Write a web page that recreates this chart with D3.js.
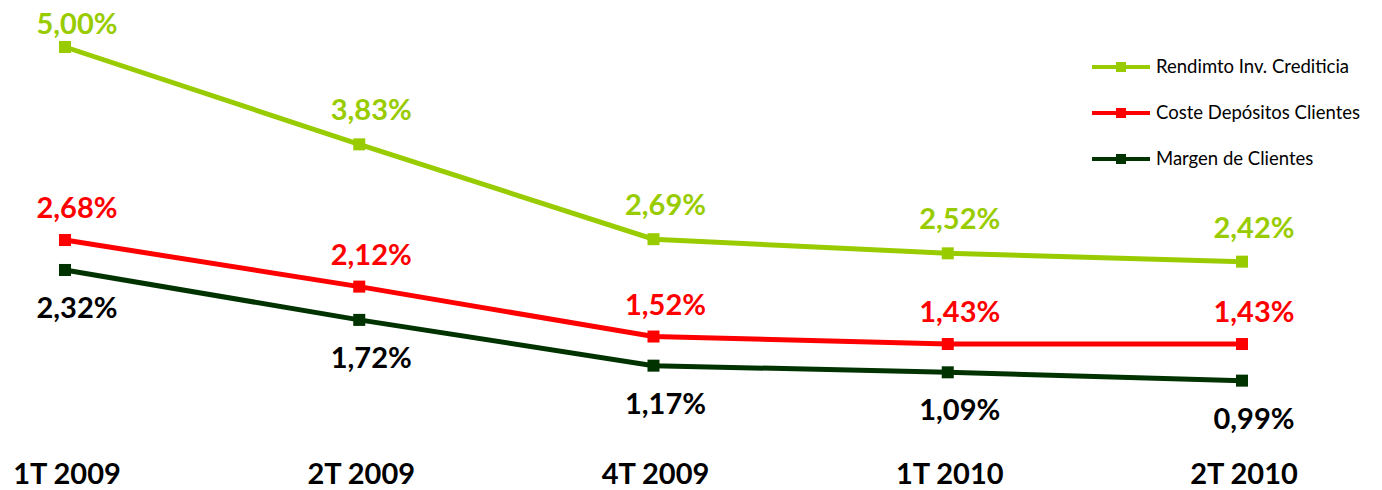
<!DOCTYPE html>
<html>
<head>
<meta charset="utf-8">
<script src="https://cdn.jsdelivr.net/npm/d3@7"></script>
<style>
  body { margin: 0; background: #fff; }
  text { font-family: Lato, 'Open Sans', sans-serif; }
</style>
</head>
<body>
<div id="chart"></div>
<script>
const categories = ['1T 2009', '2T 2009', '4T 2009', '1T 2010', '2T 2010']
const rendimiento = [5.0, 3.83, 2.69, 2.52, 2.42]
const coste = [2.68, 2.12, 1.52, 1.43, 1.43]
const margen = [2.32, 1.72, 1.17, 1.09, 0.99]
const seriesNames = ['Rendimto Inv. Crediticia', 'Coste Depósitos Clientes', 'Margen de Clientes']

const width = 1382
const height = 490

const series = [
  { name: seriesNames[0], values: rendimiento, color: '#99cc00', labelColor: '#99cc00', dy: -24 },
  { name: seriesNames[1], values: coste, color: '#ff0000', labelColor: '#ff0000', dy: -22 },
  { name: seriesNames[2], values: margen, color: '#003300', labelColor: '#000000', dy: 48 }
]

const svg = d3
  .select('#chart')
  .append('svg')
  .attr('width', width)
  .attr('height', height)

const x = d3.scalePoint().domain(categories).range([65, 1242])
const y = d3.scaleLinear().domain([0, 5]).range([463, 47])

const fmt = v => d3.format('.2f')(v).replace('.', ',') + '%'

const line = d3
  .line()
  .x((d, i) => x(categories[i]))
  .y(d => y(d))

series.forEach(s => {
  const g = svg.append('g').attr('class', 'series')

  g.append('path')
    .datum(s.values)
    .attr('d', line)
    .attr('fill', 'none')
    .attr('stroke', s.color)
    .attr('stroke-width', 5)

  g.selectAll('rect')
    .data(s.values)
    .enter()
    .append('rect')
    .attr('x', (d, i) => x(categories[i]) - 6)
    .attr('y', d => y(d) - 6)
    .attr('width', 12)
    .attr('height', 12)
    .attr('fill', s.color)

  g.selectAll('text')
    .data(s.values)
    .enter()
    .append('text')
    .attr('x', (d, i) => x(categories[i]) + 12)
    .attr('y', d => Math.max(y(d) + s.dy, 34))
    .attr('text-anchor', 'middle')
    .attr('fill', s.labelColor)
    .style('font-size', '29px')
    .style('font-weight', 700)
    .text(d => fmt(d))
})

// category labels
svg
  .selectAll('.cat')
  .data(categories)
  .enter()
  .append('text')
  .attr('class', 'cat')
  .attr('x', d => x(d) + 2)
  .attr('y', 484)
  .attr('text-anchor', 'middle')
  .attr('fill', '#000')
  .style('font-size', '29px')
  .style('font-weight', 700)
  .text(d => d)

// legend
const legend = svg.append('g').attr('transform', 'translate(1092, 67)')

legend
  .selectAll('.legend-row')
  .data(series)
  .enter()
  .append('g')
  .attr('class', 'legend-row')
  .attr('transform', (d, i) => `translate(0,${i * 46})`)
  .each(function(d) {
    const g = d3.select(this)
    g.append('line')
      .attr('x1', 0)
      .attr('x2', 58)
      .attr('y1', 0)
      .attr('y2', 0)
      .attr('stroke', d.color)
      .attr('stroke-width', 4)
    g.append('rect')
      .attr('x', 24)
      .attr('y', -5)
      .attr('width', 10)
      .attr('height', 10)
      .attr('fill', d.color)
    g.append('text')
      .attr('x', 64)
      .attr('y', 0)
      .attr('dy', '0.35em')
      .attr('fill', '#000')
      .style('font-size', '18.5px')
      .text(d.name)
  })
</script>
</body>
</html>
